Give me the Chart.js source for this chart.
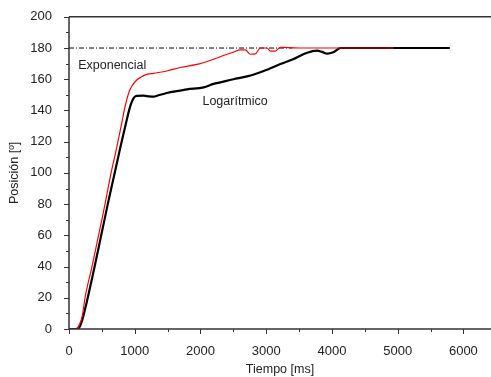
<!DOCTYPE html>
<html>
<head>
<meta charset="utf-8">
<script src="https://cdn.jsdelivr.net/npm/chart.js@4.4.1/dist/chart.umd.min.js"></script>
<style>
  html, body { margin: 0; padding: 0; background: #fff; }
</style>
</head>
<body>
<canvas id="chart" width="491" height="377"></canvas>
<script>
// Respuesta del servo: posición vs tiempo

// Curva exponencial (roja)
const tExp = [0, 100, 160, 200, 244, 350, 450, 548, 640, 720, 803, 840, 879, 915, 955, 1031, 1100, 1160, 1290, 1489, 1692,
              1997, 2200, 2404, 2500, 2607, 2683, 2759, 2835, 2911, 3013, 3064, 3140, 3216, 3267, 3500, 4000, 4500, 4944];
const posExp = [0, 0, 3, 8, 20, 40, 60, 80, 100, 115, 132, 140, 147, 152, 155.5, 159.5, 161.5, 162.8, 163.8, 165.3, 167.5,
                170, 172.8, 176, 177.3, 178.8, 178.8, 176, 176.2, 180, 180, 178, 178, 180.5, 180.4, 180, 180, 180, 180];

// Curva logarítmica (negra)
const tLog = [0, 130, 170, 210, 285, 390, 490, 590, 690, 785, 879, 920, 955, 990, 1030, 1133, 1220, 1290, 1350, 1489,
              1692, 1794, 2048, 2200, 2302, 2500, 2708, 2962, 3216, 3419, 3623, 3775, 3850, 3928, 4029, 4131, 4500, 5000, 5500, 5793];
const posLog = [0, 0, 2, 7, 20, 40, 60, 80, 99, 117, 134, 141, 145.5, 148.3, 149.3, 149.5, 149, 148.8, 149.6, 151.2,
                152.7, 153.5, 154.8, 157, 158, 160, 161.8, 165.3, 169.7, 173, 177, 178.3, 177.5, 176.4, 177.5, 180, 180, 180, 180, 180];

// Referencia (línea punto-raya)
const tRef = [0, 3400];
const posRef = [180, 180];

const seriesNames = ['Exponencial', 'Logarítmico', 'Referencia'];
const yTicks = [0, 20, 40, 60, 80, 100, 120, 140, 160, 180, 200];
const xTicks = [0, 1000, 2000, 3000, 4000, 5000, 6000];

const FONT = 'Liberation Sans, Arial, sans-serif';
const INK = '#222';

function toPoints(xs, ys) {
    return xs.map((x, i) => ({ x: x, y: ys[i] }));
}

// Marco, marcas de ejes y rótulos de las curvas
const framePlugin = {
    id: 'frame',
    afterDatasetsDraw(chart) {
        const { ctx, chartArea: a, scales: { x, y } } = chart;
        ctx.save();
        ctx.strokeStyle = '#333';
        ctx.lineWidth = 1.5;
        ctx.beginPath();
        ctx.moveTo(a.left, a.top);
        ctx.lineTo(a.right, a.top);
        ctx.moveTo(a.left, a.top);
        ctx.lineTo(a.left, a.bottom);
        ctx.lineTo(a.right, a.bottom);
        ctx.stroke();

        ctx.lineWidth = 1;
        ctx.beginPath();
        for (let v = y.min; v <= y.max; v += 10) {
            const py = Math.round(y.getPixelForValue(v)) + 0.5;
            const len = v % 20 === 0 ? 5 : 3;
            ctx.moveTo(a.left - len, py);
            ctx.lineTo(a.left, py);
        }
        for (let v = x.min; v <= x.max; v += 500) {
            const px = Math.round(x.getPixelForValue(v)) + 0.5;
            const len = v % 1000 === 0 ? 5 : 3;
            ctx.moveTo(px, a.bottom);
            ctx.lineTo(px, a.bottom + len);
        }
        ctx.stroke();

        ctx.fillStyle = INK;
        ctx.font = '12.5px ' + FONT;
        ctx.textBaseline = 'middle';
        ctx.textAlign = 'left';
        ctx.fillText(seriesNames[0], x.getPixelForValue(140), y.getPixelForValue(168.8));
        ctx.fillText(seriesNames[1], x.getPixelForValue(2030), y.getPixelForValue(145.4));
        ctx.restore();
    }
};

const ctx = document.getElementById('chart').getContext('2d');

new Chart(ctx, {
    type: 'line',
    data: {
        datasets: [
            {
                label: seriesNames[0],
                data: toPoints(tExp, posExp),
                borderColor: '#ff0000',
                borderWidth: 1.2,
                pointRadius: 0,
                cubicInterpolationMode: 'monotone'
            },
            {
                label: seriesNames[1],
                data: toPoints(tLog, posLog),
                borderColor: '#000000',
                borderWidth: 2.2,
                pointRadius: 0,
                cubicInterpolationMode: 'monotone'
            },
            {
                label: seriesNames[2],
                data: toPoints(tRef, posRef),
                borderColor: '#000000',
                borderWidth: 1,
                borderDash: [5, 2, 1, 2],
                pointRadius: 0
            }
        ]
    },
    options: {
        responsive: false,
        animation: false,
        layout: {
            padding: { top: 15, right: 0, left: 0, bottom: 0 }
        },
        plugins: {
            legend: { display: false },
            tooltip: { enabled: false }
        },
        scales: {
            x: {
                type: 'linear',
                min: 0,
                max: 6420,
                grid: { display: false },
                border: { display: false },
                afterBuildTicks: (scale) => {
                    scale.ticks = xTicks.map(v => ({ value: v }));
                },
                afterFit: (scale) => { scale.height = 48; },
                ticks: {
                    color: INK,
                    padding: 7,
                    maxRotation: 0,
                    callback: (v) => String(v),
                    font: { family: FONT, size: 13 }
                },
                title: {
                    display: true,
                    text: 'Tiempo [ms]',
                    color: INK,
                    padding: { top: 0, bottom: 0 },
                    font: { family: FONT, size: 12.5 }
                }
            },
            y: {
                min: 0,
                max: 200,
                grid: { display: false },
                border: { display: false },
                afterBuildTicks: (scale) => {
                    scale.ticks = yTicks.map(v => ({ value: v }));
                },
                afterFit: (scale) => { scale.width = 69; },
                ticks: {
                    color: INK,
                    padding: 9,
                    callback: (v) => String(v),
                    font: { family: FONT, size: 13 }
                },
                title: {
                    display: true,
                    text: 'Posición [º]',
                    color: INK,
                    padding: { top: 7, bottom: 0 },
                    font: { family: FONT, size: 12.5 }
                }
            }
        }
    },
    plugins: [framePlugin]
});
</script>
</body>
</html>
